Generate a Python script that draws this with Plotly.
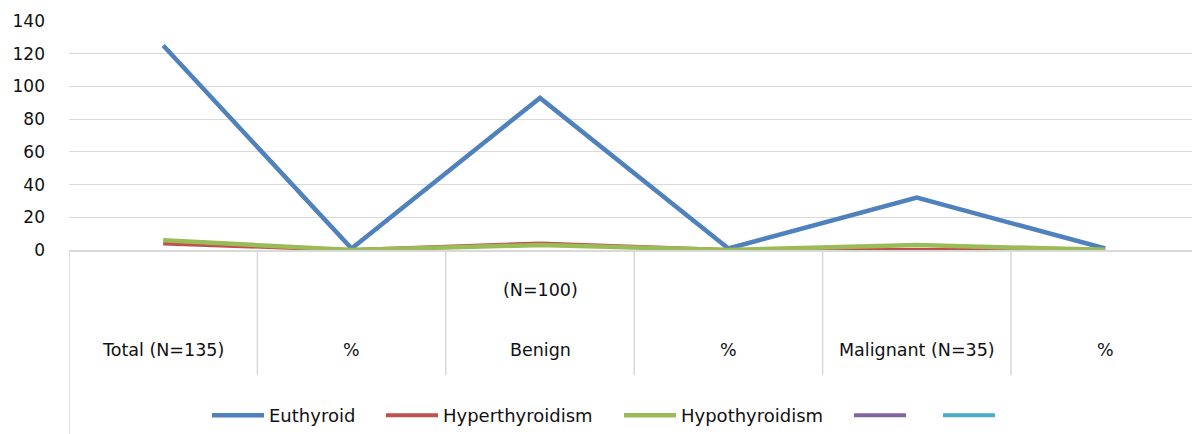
import plotly.graph_objects as go

# ---- data ----
categories = ["Total (N=135)", "%", "Benign", "%", "Malignant (N=35)", "%"]
category_extra = ["", "", "(N=100)", "", "", ""]
euthyroid = [125, 0.926, 93, 0.93, 32, 0.914]
hyperthyroidism = [4, 0.03, 4, 0.04, 0, 0.0]
hypothyroidism = [6, 0.044, 3, 0.03, 3, 0.086]
series5 = []
series6 = []
y_ticks = [0, 20, 40, 60, 80, 100, 120, 140]

names = ["Euthyroid", "Hyperthyroidism", "Hypothyroidism", "", ""]
colors = ["#4F81BD", "#C0504D", "#9BBB59", "#8064A2", "#4BACC6"]
widths = [4.5, 4, 4.5, 4, 4]
values = [euthyroid, hyperthyroidism, hypothyroidism, series5, series6]

W, H = 1192, 434
DY = 2
L, T, B = 69, 19 + DY, 183 - DY
BASE = 251  # nominal pixel row of the zero line
plot_w = W - L
plot_h = H - T - B
cat_w = 188.4
x_idx = list(range(len(categories)))

fig = go.Figure()
legend_names = ["legend", "legend2", "legend3", "legend4", "legend5"]
legend_line_start = [213, 387, 625, 855, 944]
for i, (nm, col, wd, vals) in enumerate(zip(names, colors, widths, values)):
    if vals:
        xs, ys = x_idx[:len(vals)], vals
    else:
        xs, ys = [None], [None]
    fig.add_trace(go.Scatter(
        x=xs, y=ys, mode="lines", name=nm if nm else " ",
        line=dict(color=col, width=wd),
        legend=legend_names[i], hoverinfo="skip"))

def py(pix):
    return (BASE - pix) / plot_h

def px_(pix):
    return (pix - L) / plot_w

grid_col = "#D9D9D9"
txt_col = "#111111"
shapes = []
# left divider down to bottom
shapes.append(dict(type="line", xref="x", yref="paper", x0=-0.5, x1=-0.5,
                   y0=0, y1=py(440), line=dict(color=grid_col, width=1.5)))
for k in range(len(categories) - 1):
    shapes.append(dict(type="line", xref="x", yref="paper", x0=k + 0.5, x1=k + 0.5,
                       y0=0, y1=py(378), line=dict(color=grid_col, width=1.5)))

annotations = []
for i, c in enumerate(categories):
    annotations.append(dict(x=i, y=py(352), xref="x", yref="paper", text=c,
                            showarrow=False, xanchor="center", yanchor="middle",
                            font=dict(family="DejaVu Sans", size=17.5, color=txt_col)))
    if category_extra[i]:
        annotations.append(dict(x=i, y=py(292), xref="x", yref="paper",
                                text=category_extra[i], showarrow=False,
                                xanchor="center", yanchor="middle",
                                font=dict(family="DejaVu Sans", size=17.5, color=txt_col)))

layout_legends = {}
for ln, lx in zip(legend_names, legend_line_start):
    layout_legends[ln] = dict(
        x=px_(lx - 6), y=py(419), xref="paper", yref="paper",
        xanchor="left", yanchor="middle", orientation="h",
        bgcolor="rgba(0,0,0,0)", borderwidth=0,
        font=dict(family="DejaVu Sans", size=18, color=txt_col),
        itemwidth=52, tracegroupgap=0)

fig.update_layout(
    width=W, height=H,
    margin=dict(l=L, r=0, t=T, b=B, pad=0),
    paper_bgcolor="white", plot_bgcolor="white",
    showlegend=True,
    xaxis=dict(range=[-0.5, -0.5 + plot_w / cat_w], showgrid=False, zeroline=False,
               showticklabels=False, showline=True, linecolor=grid_col, linewidth=1.5,
               ticks="", fixedrange=True),
    yaxis=dict(range=[0, 140], tickvals=y_ticks, showgrid=True, gridcolor=grid_col,
               gridwidth=1.3, zeroline=False, showline=False, ticks="",
               ticklabelstandoff=23, fixedrange=True,
               tickfont=dict(family="DejaVu Sans", size=17, color=txt_col)),
    shapes=shapes, annotations=annotations,
    **layout_legends,
)

fig.write_html("out.html", config={"displayModeBar": False},
               post_script="document.body.style.margin='0px';document.body.style.overflow='hidden';")
